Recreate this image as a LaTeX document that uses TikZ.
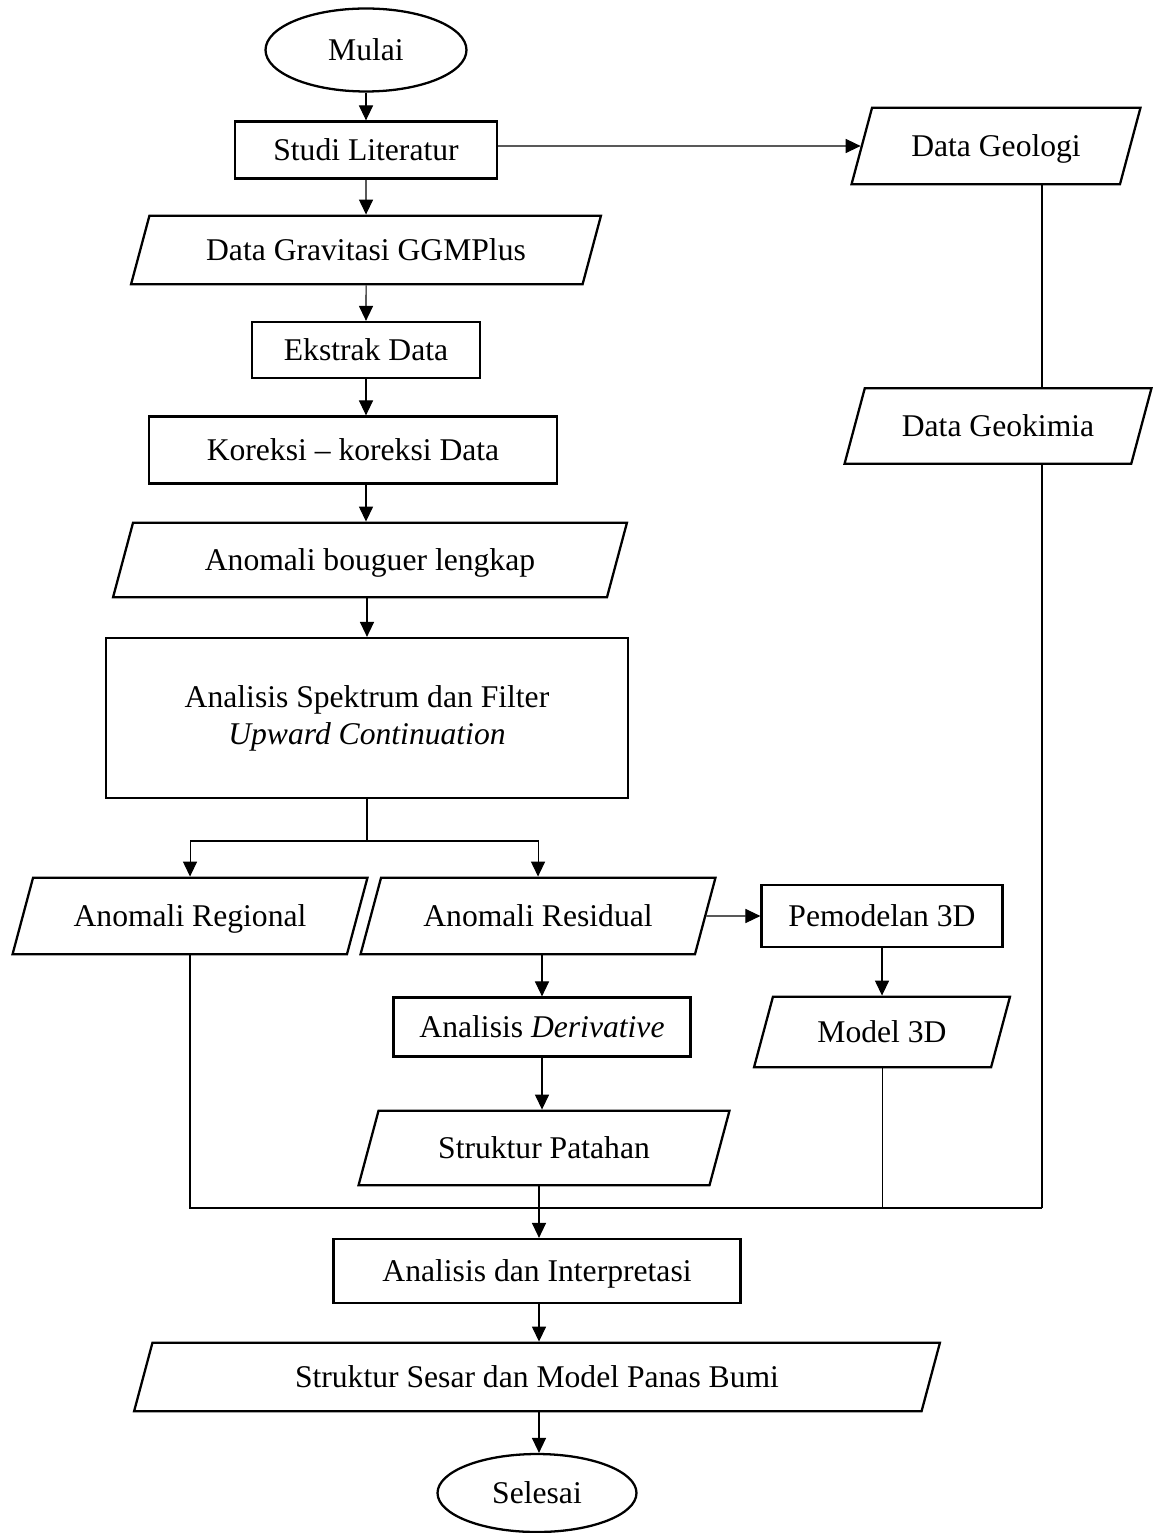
\documentclass[tikz,border=0pt]{standalone}
\usepackage{fontspec}
\setmainfont{Liberation Serif}
\usetikzlibrary{arrows.meta,shapes.geometric}

\begin{document}
\begin{tikzpicture}[x=0.02cm, y=-0.02cm,
  bigbox/.style={draw, line width=1.3pt, rectangle, align=center, font=\fontsize{18}{21}\selectfont},
  procbox/.style={bigbox, text height=15pt, text depth=3pt},
  iobox/.style={draw, line width=1.3pt, trapezium, trapezium left angle=75, trapezium right angle=105, trapezium stretches body, text height=15pt, text depth=3pt, font=\fontsize{18}{21}\selectfont},
  termbox/.style={draw, line width=1.3pt, ellipse, text height=15pt, text depth=3pt, font=\fontsize{18}{21}\selectfont},
  link/.style={line width=0.6pt},
  arr/.style={line width=0.6pt, -{Triangle[length=8.5pt,width=8pt]}}
]
  \useasboundingbox (0,0) rectangle (1154,1533);

  %% Main column
  \node[termbox, minimum width=4.02cm, minimum height=1.66cm] (mulai) at (366,50) {Mulai};
  \node[procbox, minimum width=5.24cm, minimum height=1.14cm] (studi) at (366,150) {Studi Literatur};
  \node[iobox, minimum width=9.4cm, inner ysep=0.37cm] (gravitasi) at (366,250) {Data Gravitasi GGMPlus};
  \node[procbox, minimum width=4.56cm, minimum height=1.12cm] (ekstrak) at (366,350) {Ekstrak Data};
  \node[procbox, minimum width=8.16cm, minimum height=1.34cm] (koreksi) at (353,450) {Koreksi -- koreksi Data};
  \node[iobox, minimum width=10.28cm, inner ysep=0.43cm] (bouguer) at (370,560) {Anomali bouguer lengkap};
  \node[bigbox, minimum width=10.44cm, minimum height=3.2cm] (spektrum) at (367,718) {Analisis Spektrum dan Filter\\\textit{Upward Continuation}};

  %% Right column
  \node[iobox, minimum width=5.78cm, inner ysep=0.45cm] (geologi) at (996,146) {Data Geologi};
  \node[iobox, minimum width=6.14cm, inner ysep=0.44cm] (geokimia) at (998,426) {Data Geokimia};

  %% Split
  \node[iobox, minimum width=7.1cm, inner ysep=0.45cm] (regional) at (190,916) {Anomali Regional};
  \node[iobox, minimum width=7.1cm, inner ysep=0.45cm] (residual) at (538,916) {Anomali Residual};
  \node[procbox, minimum width=4.82cm, minimum height=1.24cm] (pemodelan) at (882,916) {Pemodelan 3D};
  \node[iobox, minimum width=5.12cm, inner ysep=0.39cm] (model) at (882,1032) {Model 3D};
  \node[procbox, minimum width=5.94cm, minimum height=1.18cm] (derivative) at (542,1027) {Analisis \textit{Derivative}};
  \node[iobox, minimum width=7.42cm, inner ysep=0.43cm] (patahan) at (544,1148) {Struktur Patahan};

  %% Bottom
  \node[procbox, minimum width=8.14cm, minimum height=1.28cm] (interpretasi) at (537,1271) {Analisis dan Interpretasi};
  \node[iobox, minimum width=16.12cm, inner ysep=0.37cm] (sesar) at (537,1377) {Struktur Sesar dan Model Panas Bumi};
  \node[termbox, minimum width=3.98cm, minimum height=1.56cm] (selesai) at (537,1493) {Selesai};

  \coordinate (sp) at (367,841);
  \coordinate (join) at (539,1208);
  \coordinate (jr) at (1042,1208);

  %% Connectors
  \draw[arr] (mulai.south) -- (studi.north);
  \draw[arr] (studi.east |- geologi) -- (geologi);
  \draw[arr] (studi.south) -- (gravitasi.north);
  \draw[arr] (gravitasi.south) -- (ekstrak.north);
  \draw[arr] (ekstrak) -- (ekstrak |- koreksi.north);
  \draw[arr] (koreksi.south -| ekstrak) -- (bouguer.north -| ekstrak);
  \draw[arr] (bouguer.south -| spektrum) -- (spektrum);
  \draw[link] (spektrum.south) -- (sp);
  \draw[arr] (sp) -| (regional);
  \draw[arr] (sp) -| (residual);
  \draw[arr] (residual) -- (pemodelan);
  \draw[arr] (pemodelan.south -| model) -- (model.north -| model);
  \draw[arr] (residual.south -| derivative) -- (derivative);
  \draw[arr] (derivative) -- (derivative |- patahan.north);
  \draw[link] (geologi.south -| jr) -- (geokimia.north -| jr);
  \draw[link] (geokimia.south -| jr) -- (jr);
  \draw[link] (regional.south) -- (regional.south |- join) -- (jr);
  \draw[link] (model.south) -- (model.south |- join);
  \draw[link] (patahan.south -| join) -- (join);
  \draw[arr] (join) -- (join |- interpretasi.north);
  \draw[arr] (interpretasi.south -| join) -- (sesar.north -| join);
  \draw[arr] (sesar.south -| join) -- (selesai.north -| join);
\end{tikzpicture}
\end{document}
